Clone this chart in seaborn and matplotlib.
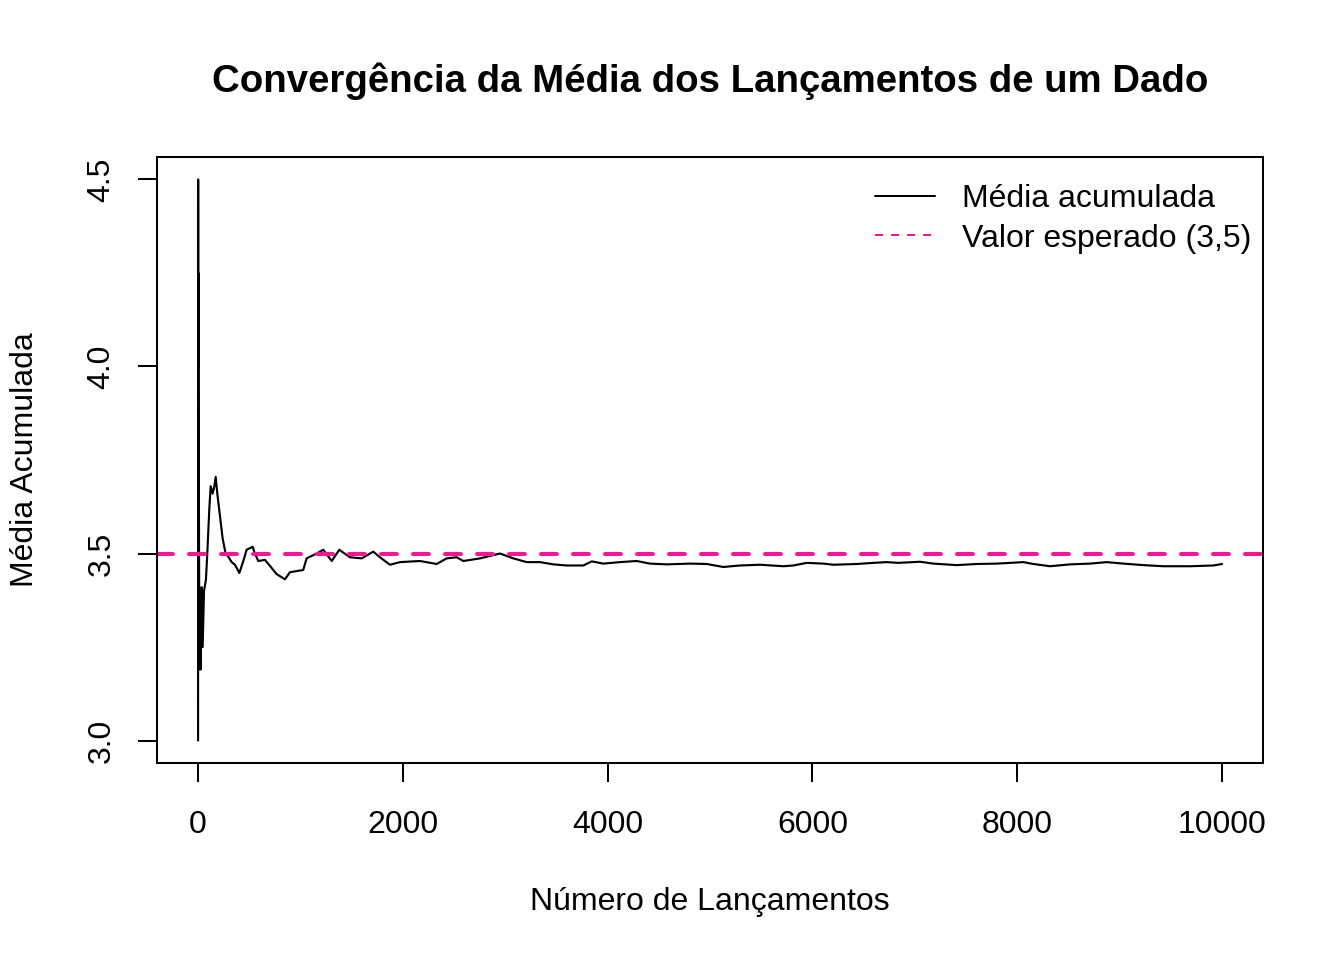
import matplotlib
matplotlib.use("Agg")
import matplotlib.pyplot as plt
from matplotlib.lines import Line2D
import seaborn as sns
import pandas as pd

# --- Data (cumulative mean of die rolls) ---
n_rolls = [1, 2, 3, 4, 5, 6, 8, 12, 14, 20, 26, 36, 46, 59, 78, 91, 111, 124, 143, 160,
           173, 189, 215, 241, 270, 300, 329, 361, 404, 443, 475, 534, 556, 589, 654,
           703, 768, 850, 898, 1028, 1061, 1159, 1224, 1306, 1380, 1484, 1599, 1712,
           1777, 1875, 1973, 2168, 2331, 2429, 2526, 2591, 2754, 2949, 3080, 3210, 3340,
           3470, 3600, 3763, 3845, 3958, 4121, 4284, 4414, 4577, 4805, 4968, 5130, 5293,
           5489, 5716, 5814, 5944, 6107, 6205, 6433, 6595, 6726, 6839, 7051, 7181, 7409,
           7604, 7800, 8060, 8158, 8321, 8516, 8711, 8874, 9037, 9232, 9427, 9688, 9916,
           10000]
running_mean = [3.00, 4.50, 4.00, 4.25, 4.20, 4.17, 3.75, 3.40, 3.19, 3.30, 3.19, 3.41,
                3.25, 3.40, 3.43, 3.50, 3.62, 3.68, 3.66, 3.68, 3.705, 3.66, 3.60, 3.54,
                3.50, 3.49, 3.477, 3.47, 3.448, 3.48, 3.51, 3.518, 3.50, 3.48, 3.483,
                3.467, 3.445, 3.431, 3.45, 3.456, 3.487, 3.50, 3.51, 3.48, 3.51, 3.49,
                3.487, 3.505, 3.49, 3.47, 3.477, 3.48, 3.472, 3.487, 3.49, 3.48, 3.487,
                3.50, 3.487, 3.477, 3.477, 3.471, 3.468, 3.468, 3.479, 3.473, 3.477, 3.480,
                3.473, 3.471, 3.473, 3.472, 3.464, 3.468, 3.470, 3.466, 3.468, 3.475,
                3.473, 3.470, 3.472, 3.475, 3.477, 3.475, 3.478, 3.473, 3.469, 3.472,
                3.473, 3.477, 3.472, 3.466, 3.471, 3.473, 3.477, 3.473, 3.469, 3.466,
                3.466, 3.468, 3.472]
expected_value = 3.5
x_ticks = [0, 2000, 4000, 6000, 8000, 10000]
y_ticks = [3.0, 3.5, 4.0, 4.5]
legend_labels = ["Média acumulada", "Valor esperado (3,5)"]

df = pd.DataFrame({"n": n_rolls, "media": running_mean})

sns.set_theme(style="white")
plt.rcParams["font.family"] = ["Liberation Sans", "DejaVu Sans"]
plt.rcParams["font.size"] = 12
plt.rcParams["text.color"] = "black"
plt.rcParams["axes.labelcolor"] = "black"
plt.rcParams["xtick.color"] = "black"
plt.rcParams["ytick.color"] = "black"

fig = plt.figure(figsize=(7, 5), dpi=192)
ax = fig.add_axes([157 / 1344, 1 - 763 / 960, (1263 - 157) / 1344, (763 - 157) / 960])

sns.lineplot(data=df, x="n", y="media", color="black", linewidth=0.8, ax=ax)
ax.axhline(expected_value, color="#FF1493", linewidth=1.5, dashes=(4, 4),
           dash_capstyle="round")

ax.set_xlim(-400, 10400)
ax.set_ylim(2.94, 4.56)
ax.set_xticks(x_ticks)
ax.set_xticklabels([str(t) for t in x_ticks])
ax.set_yticks(y_ticks)
ax.set_yticklabels([f"{t:.1f}" for t in y_ticks])

for side in ["left", "right", "top", "bottom"]:
    ax.spines[side].set_visible(True)
    ax.spines[side].set_color("black")
    ax.spines[side].set_linewidth(0.75)

ax.tick_params(axis="both", direction="out", length=7.2, width=0.75, colors="black",
               labelcolor="black", labelsize=12, bottom=True, left=True)
ax.tick_params(axis="x", pad=10.5)
ax.tick_params(axis="y", pad=8, labelrotation=90)
for lab in ax.get_yticklabels():
    lab.set_va("center")

ax.set_xlabel("")
ax.set_ylabel("")
fig.text(710 / 1344, 1 - 902 / 960, "Número de Lançamentos", ha="center", va="center",
         fontsize=12, color="black")
fig.text(25 / 1344, 1 - 460 / 960, "Média Acumulada", ha="center", va="center",
         rotation=90, fontsize=12, color="black")
fig.text(710 / 1344, 1 - 81 / 960, "Convergência da Média dos Lançamentos de um Dado",
         ha="center", va="center", fontsize=14.4, fontweight="bold", color="black")

handles = [Line2D([], [], color="black", linewidth=0.75),
           Line2D([], [], color="#FF1493", linewidth=0.75, dashes=(4, 4))]
leg = fig.legend(handles, legend_labels, loc="upper left",
                 bbox_to_anchor=(875 / 1344, 1 - 184 / 960), frameon=False, fontsize=12,
                 handlelength=1.875, handletextpad=0.84, labelspacing=0.3, borderpad=0,
                 borderaxespad=0)
for t in leg.get_texts():
    t.set_color("black")

fig.savefig("out.png", dpi=192)
